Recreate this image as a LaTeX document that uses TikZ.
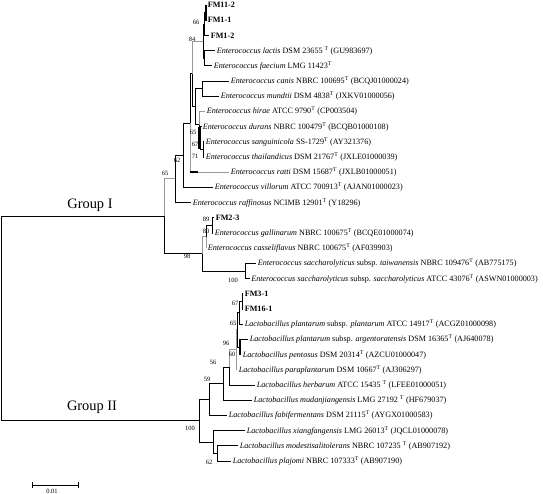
\documentclass[tikz,border=0pt]{standalone}
\usepackage{fontspec}
\setmainfont{Liberation Serif}
\usetikzlibrary{calc}
\begin{document}
\begin{tikzpicture}[x=1pt,y=-1pt,
  br/.style={line width=0.9pt, black},
  gbr/.style={line width=0.9pt, black!40},
  thk/.style={line width=2pt, black},
  leaf/.style={anchor=west, inner xsep=1.6pt, inner ysep=0pt, font=\fontsize{8.15}{10}\selectfont},
  bs/.style={font=\fontsize{6.5}{7}\selectfont, inner sep=0pt},
  grp/.style={font=\fontsize{14.4}{16}\selectfont, inner sep=0pt}]
\useasboundingbox (0,0) rectangle (543,494);
% leaf tips
\coordinate (t0) at (206,5);
\coordinate (t1) at (206,20.2);
\coordinate (t2) at (209,35.4);
\coordinate (t3) at (215,50.6);
\coordinate (t4) at (212,65.8);
\coordinate (t5) at (229,81);
\coordinate (t6) at (219,96.2);
\coordinate (t7) at (205,111.4);
\coordinate (t8) at (201,126.6);
\coordinate (t9) at (204,141.8);
\coordinate (t10) at (204,157);
\coordinate (t11) at (229,172.2);
\coordinate (t12) at (213,187.4);
\coordinate (t13) at (191,202.6);
\coordinate (t14) at (214,217.8);
\coordinate (t15) at (213,233);
\coordinate (t16) at (206,248.2);
\coordinate (t17) at (256,263.4);
\coordinate (t18) at (249.5,278.6);
\coordinate (t19) at (243,293.8);
\coordinate (t20) at (243,309);
\coordinate (t21) at (243,324.2);
\coordinate (t22) at (248,339.4);
\coordinate (t23) at (241,354.6);
\coordinate (t24) at (237,369.8);
\coordinate (t25) at (255,385);
\coordinate (t26) at (252,400.2);
\coordinate (t27) at (227,415.4);
\coordinate (t28) at (245,430.6);
\coordinate (t29) at (238,445.8);
\coordinate (t30) at (231,461);
% labels
\node[leaf] (L0) at (t0) {\textbf{FM11-2}};
\node[leaf] (L1) at (t1) {\textbf{FM1-1}};
\node[leaf] (L2) at (t2) {\textbf{FM1-2}};
\node[leaf] (L3) at (t3) {\textit{Enterococcus lactis} DSM 23655 \textsuperscript{T} (GU983697)};
\node[leaf] (L4) at (t4) {\textit{Enterococcus faecium} LMG 11423\textsuperscript{T}};
\node[leaf] (L5) at (t5) {\textit{Enterococcus canis} NBRC 100695\textsuperscript{T} (BCQJ01000024)};
\node[leaf] (L6) at (t6) {\textit{Enterococcus mundtii} DSM 4838\textsuperscript{T} (JXKV01000056)};
\node[leaf] (L7) at (t7) {\textit{Enterococcus hirae} ATCC 9790\textsuperscript{T} (CP003504)};
\node[leaf] (L8) at (t8) {\textit{Enterococcus durans} NBRC 100479\textsuperscript{T} (BCQB01000108)};
\node[leaf] (L9) at (t9) {\textit{Enterococcus sanguinicola} SS-1729\textsuperscript{T} (AY321376)};
\node[leaf] (L10) at (t10) {\textit{Enterococcus thailandicus} DSM 21767\textsuperscript{T} (JXLE01000039)};
\node[leaf] (L11) at (t11) {\textit{Enterococcus ratti} DSM 15687\textsuperscript{T} (JXLB01000051)};
\node[leaf] (L12) at (t12) {\textit{Enterococcus villorum} ATCC 700913\textsuperscript{T} (AJAN01000023)};
\node[leaf] (L13) at (t13) {\textit{Enterococcus raffinosus} NCIMB 12901\textsuperscript{T} (Y18296)};
\node[leaf] (L14) at (t14) {\textbf{FM2-3}};
\node[leaf] (L15) at (t15) {\textit{Enterococcus gallinarum} NBRC 100675\textsuperscript{T} (BCQE01000074)};
\node[leaf] (L16) at (t16) {\textit{Enterococcus casseliflavus} NBRC 100675\textsuperscript{T} (AF039903)};
\node[leaf] (L17) at (t17) {\textit{Enterococcus saccharolyticus} subsp. \textit{taiwanensis} NBRC 109476\textsuperscript{T} (AB775175)};
\node[leaf] (L18) at (t18) {\textit{Enterococcus saccharolyticus} subsp. \textit{saccharolyticus} ATCC 43076\textsuperscript{T} (ASWN01000003)};
\node[leaf] (L19) at (t19) {\textbf{FM3-1}};
\node[leaf] (L20) at (t20) {\textbf{FM16-1}};
\node[leaf] (L21) at (t21) {\textit{Lactobacillus plantarum} subsp. \textit{plantarum} ATCC 14917\textsuperscript{T} (ACGZ01000098)};
\node[leaf] (L22) at (t22) {\textit{Lactobacillus plantarum} subsp. \textit{argentoratensis} DSM 16365\textsuperscript{T} (AJ640078)};
\node[leaf] (L23) at (t23) {\textit{Lactobacillus pentosus} DSM 20314\textsuperscript{T} (AZCU01000047)};
\node[leaf] (L24) at (t24) {\textit{Lactobacillus paraplantarum} DSM 10667\textsuperscript{T} (AJ306297)};
\node[leaf] (L25) at (t25) {\textit{Lactobacillus herbarum} ATCC 15435 \textsuperscript{T} (LFEE01000051)};
\node[leaf] (L26) at (t26) {\textit{Lactobacillus mudanjiangensis} LMG 27192 \textsuperscript{T} (HF679037)};
\node[leaf] (L27) at (t27) {\textit{Lactobacillus fabifermentans} DSM 21115\textsuperscript{T} (AYGX01000583)};
\node[leaf] (L28) at (t28) {\textit{Lactobacillus xiangfangensis} LMG 26013\textsuperscript{T} (JQCL01000078)};
\node[leaf] (L29) at (t29) {\textit{Lactobacillus modestisalitolerans} NBRC 107235 \textsuperscript{T} (AB907192)};
\node[leaf] (L30) at (t30) {\textit{Lactobacillus plajomi} NBRC 107333\textsuperscript{T} (AB907190)};
% internal nodes
\coordinate (n66) at (205.5,12.6);
\coordinate (nB) at (204.5,24.0);
\coordinate (nC) at (204,58.2);
\coordinate (n84) at (203,41.1);
\coordinate (nCM) at (202,88.6);
\coordinate (n71) at (203,149.4);
\coordinate (n67) at (200.5,138);
\coordinate (nZ) at (199,124.7);
\coordinate (nY) at (195,106.7);
\coordinate (nX) at (192,73.9);
\coordinate (nU) at (190,123.05);
\coordinate (n62) at (183,155.2);
\coordinate (n65) at (175,178.9);
\coordinate (n89) at (212,225.4);
\coordinate (n80) at (206,236.8);
\coordinate (nS) at (245,271);
\coordinate (n98) at (202,253.9);
\coordinate (gI) at (164,216.4);
\coordinate (n67b) at (242,301.4);
\coordinate (n65b) at (239,312.8);
\coordinate (n60) at (240,347);
\coordinate (nV) at (237,329.9);
\coordinate (n96) at (236,349.85);
\coordinate (n56) at (229,367.4);
\coordinate (n59) at (223,383.8);
\coordinate (nF) at (209,399.6);
\coordinate (n62b) at (217,453.4);
\coordinate (nXi) at (213,442);
\coordinate (gII) at (199,420.8);
\coordinate (root) at (1,318.6);
% branches
\draw[br] (n66) |- (t0); \draw[br] (n66) |- (t1);
\draw[thk] (t0 -| n66) -- (t1 -| n66);
\draw[br] (nB) |- (n66); \draw[br] (nB) |- (t2);
\draw[br] (nC) |- (t3); \draw[br] (nC) |- (t4);
\draw[br] (n84) |- (nB); \draw[br] (n84) |- (nC);
\draw[br] (nCM) |- (t5); \draw[br] (nCM) |- (t6);
\draw[br] (n71) |- (t9); \draw[br] (n71) |- (t10);
\draw[br] (n67) |- (t8); \draw[br] (n67) |- (n71);
\draw[thk] (t8 -| nZ) -- (n71 -| nZ);
\draw[gbr] (nZ) |- (t7); \draw[br] (nZ) |- (n67);
\draw[br] (nY) |- (nCM); \draw[br] (nY) |- (nZ);
\draw[gbr] (nX) |- (n84); \draw[br] (nX) |- (nY);
\draw[br] (nU) |- (nX); \draw[gbr] (nU) |- (t11);
\draw[thk] (t11 -| nU) -- ++(8,0);
\draw[br] (n62) |- (nU); \draw[br] (n62) |- (t12);
\draw[br] (n65) |- (n62); \draw[br] (n65) |- (t13);
\draw[br] (n89) |- (t14); \draw[br] (n89) |- (t15);
\draw[br] (n80) |- (n89); \draw[gbr] (n80) |- (t16);
\draw[br] (nS) |- (t17); \draw[br] (nS) |- (t18);
\draw[gbr] (n98) |- (n80); \draw[br] (n98) |- (nS);
\draw[gbr] (gI) |- (n65); \draw[br] (gI) |- (n98);
\draw[br] (n67b) |- (t19); \draw[br] (n67b) |- (t20);
\draw[br] (n65b) |- (n67b); \draw[br] (n65b) |- (t21);
\draw[br] (n60) |- (t22); \draw[br] (n60) |- (t23);
\draw[thk] (t22 -| n60) -- (t23 -| n60);
\draw[br] (nV) |- (n65b); \draw[br] (nV) |- (n60);
\draw[gbr] (n96) |- (nV); \draw[gbr] (n96) |- (t24);
\draw[gbr] (n56) |- (n96); \draw[br] (n56) |- (t25);
\draw[br] (n59) |- (n56); \draw[br] (n59) |- (t26);
\draw[br] (nF) |- (n59); \draw[br] (nF) |- (t27);
\draw[br] (n62b) |- (t29); \draw[br] (n62b) |- (t30);
\draw[br] (nXi) |- (t28); \draw[br] (nXi) |- (n62b);
\draw[br] (gII) |- (nF); \draw[br] (gII) |- (nXi);
\draw[br] (root) |- (gI); \draw[br] (root) |- (gII);
% bootstrap values
\node[bs] (b66) at (196,22) {66};
\node[bs] (b84) at (192,39) {84};
\node[bs] (b65a) at (193,132) {65};
\node[bs] (b67a) at (195,144) {67};
\node[bs] (b71) at (195,156) {71};
\node[bs] (b62a) at (177,160) {62};
\node[bs] (b65b) at (165,173) {65};
\node[bs] (b89) at (206,219) {89};
\node[bs] (b80) at (206,231) {80};
\node[bs] (b98) at (187,256) {98};
\node[bs] (b100a) at (233,280) {100};
\node[bs] (b67b) at (235,303) {67};
\node[bs] (b65c) at (233,323) {65};
\node[bs] (b96) at (226,343) {96};
\node[bs] (b60) at (232,354) {60};
\node[bs] (b56) at (213,362) {56};
\node[bs] (b59) at (207,379) {59};
\node[bs] (b100b) at (190,428) {100};
\node[bs] (b62b) at (209,462) {62};
% group labels
\node[grp] (G1) at (90,205) {Group I};
\node[grp] (G2) at (92,407) {Group II};
% scale bar
\coordinate (s1) at (32,485);
\coordinate (s2) at (78,485);
\draw[br] (s1) -- (s2);
\draw[br] ($(s1)+(0,-3)$) -- ($(s1)+(0,3)$);
\draw[br] ($(s2)+(0,-3)$) -- ($(s2)+(0,3)$);
\node[bs] (sl) at (52,491) {0.01};
\end{tikzpicture}
\end{document}
